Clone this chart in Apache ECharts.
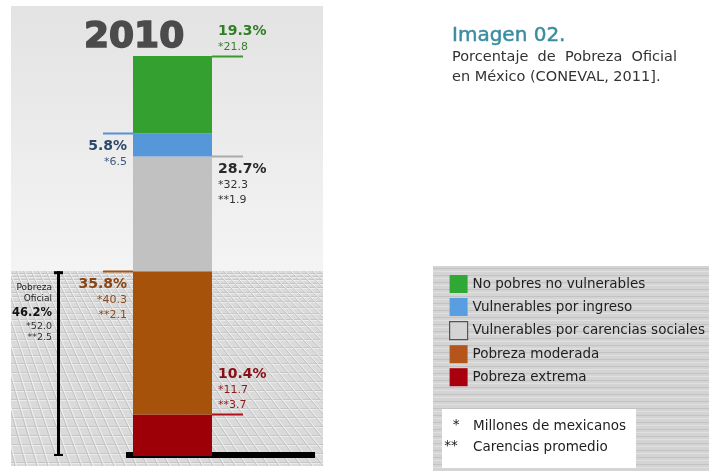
<!DOCTYPE html>
<html><head><meta charset="utf-8">
<script src="https://cdn.jsdelivr.net/npm/echarts@6/dist/echarts.min.js"></script>
<style>html,body{margin:0;padding:0;background:#fff}#c{width:709px;height:471px}</style>
</head><body><div id="c"></div>
<script>
// ---- data ----
const categories = ['2010'];
const seriesNames = ['Pobreza extrema', 'Pobreza moderada', 'Vulnerables por carencias sociales', 'Vulnerables por ingreso', 'No pobres no vulnerables'];
const percentValues = [10.4, 35.8, 28.7, 5.8, 19.3];
const millionValues = [11.7, 40.3, 32.3, 6.5, 21.8];
const deprivationValues = [3.7, 2.1, 1.9, null, null];
const officialPovertyValues = [46.2, 52.0, 2.5];
const officialLabel = ['Pobreza', 'Oficial'];
const legendOrder = [4, 3, 2, 1, 0];
const titleText = 'Imagen 02.';
const subtitleLines = ['Porcentaje  de  Pobreza  Oficial', 'en México (CONEVAL, 2011].'];
const footnotes = [['*', 'Millones de mexicanos'], ['**', 'Carencias promedio']];

// ---- styles ----
const barColors = ['#9e0007', '#a6520b', '#c1c1c1', '#5597d9', '#34a02f'];
const legendColors = ['#a8000e', '#b4561b', '#d4d4d4', '#5a9ee2', '#2fa836'];
const lineColors = ['#b0101a', '#a9530f', '#aaaaaa', '#5b8fd0', '#3a9a2e'];
const pctColors = ['#8a0f14', '#8b4311', '#2a2a2a', '#2d4868', '#2f7f25'];
const smallColors = ['#8a1a1a', '#8b4a20', '#333333', '#3c5a7e', '#3d7d33'];
const labelSide = ['right', 'left', 'right', 'left', 'right'];
const labelPlace = ['above', 'below', 'below', 'below', 'above'];
const FONT = '"DejaVu Sans", sans-serif';
const G = {left: 133, top: 56, width: 79, height: 400};

function makeFloor(w, h) {
  const c = document.createElement('canvas'); c.width = w; c.height = h;
  const g = c.getContext('2d');
  g.fillStyle = '#dadada'; g.fillRect(0, 0, w, h);
  let y = 2, step = 3;
  while (y < h) {
    const yy = Math.round(y);
    g.fillStyle = '#c6c6c6'; g.fillRect(0, yy, w, 1);
    g.fillStyle = '#ebebeb'; g.fillRect(0, yy + 1, w, 1);
    y += step; step = Math.min(step + 0.35, 9);
  }
  const vx = -150, vy = -400;
  g.lineWidth = 1;
  for (let x = -700; x < w + 300; x += 11) {
    g.strokeStyle = '#c2c2c2';
    g.beginPath(); g.moveTo(vx, vy); g.lineTo(x, h); g.stroke();
    g.strokeStyle = 'rgba(245,245,245,0.8)';
    g.beginPath(); g.moveTo(vx, vy); g.lineTo(x + 1.5, h); g.stroke();
  }
  return c;
}
function makeStripes(w, h) {
  const c = document.createElement('canvas'); c.width = w; c.height = h;
  const g = c.getContext('2d');
  g.fillStyle = '#d4d4d4'; g.fillRect(0, 0, w, h);
  for (let y = 2; y < h; y += 7) {
    g.fillStyle = '#c3c3c3'; g.fillRect(0, y, w, 1);
    g.fillStyle = '#e0e0e0'; g.fillRect(0, y + 3, w, 1);
  }
  return c;
}

const chart = echarts.init(document.getElementById('c'));
chart.setOption({
  animation: false,
  grid: G,
  xAxis: {type: 'category', data: categories, show: false},
  yAxis: {type: 'value', min: 0, max: 100, show: false},
  legend: {
    orient: 'vertical', left: 444, top: 270, itemWidth: 18, itemHeight: 18, itemGap: 5,
    icon: 'rect', z: 20, selectedMode: false,
    textStyle: {fontFamily: FONT, fontSize: 13.5, color: '#1e1e1e'},
    data: legendOrder.map(i => ({
      name: seriesNames[i],
      itemStyle: i === 2 ? {color: legendColors[i], borderColor: '#555', borderWidth: 1.2} : {color: legendColors[i]}
    }))
  },
  series: seriesNames.map((n, i) => ({
    name: n, type: 'bar', stack: 'total', data: [percentValues[i]], barWidth: '100%',
    itemStyle: {color: barColors[i]}, z: 5
  }))
});

const yPix = v => chart.convertToPixel({yAxisIndex: 0}, v);
const barLeft = G.left, barRight = G.left + G.width;
const els = [];
function txt(text, x, y, font, fill, align, extra) {
  els.push({type: 'text', z: 30, style: Object.assign({text, x, y, font, fill, textAlign: align || 'left', align: align || 'left', textVerticalAlign: 'middle', verticalAlign: 'middle'}, extra || {})});
}
// backgrounds
const floorTop = Math.round(yPix(percentValues[0] + percentValues[1]));
els.push({type: 'rect', z: 0, shape: {x: 11, y: 6, width: 312, height: floorTop - 6},
  style: {fill: new echarts.graphic.LinearGradient(0, 0, 0, 1, [{offset: 0, color: '#e3e3e3'}, {offset: 1, color: '#f4f4f4'}])}});
els.push({type: 'image', z: 0, style: {image: makeFloor(312, 466 - floorTop), x: 11, y: floorTop, width: 312, height: 466 - floorTop}});
els.push({type: 'image', z: 0, style: {image: makeStripes(276, 205), x: 433, y: 266, width: 276, height: 205}});
els.push({type: 'rect', z: 1, shape: {x: 442, y: 409, width: 194, height: 59}, style: {fill: '#ffffff'}});
// baseline bar
const y0 = yPix(0);
els.push({type: 'rect', z: 2, shape: {x: 126, y: y0 - 4, width: 189, height: 6}, style: {fill: '#000'}});
// year
txt(categories[0], 84, 38, 'bold 36px ' + FONT, '#4b4b4b', 'left', {stroke: '#4b4b4b', lineWidth: 1.6});
// segment labels
let cum = 0;
percentValues.forEach((p, i) => {
  cum += p;
  const yt = Math.round(yPix(cum)) + 0.5;
  const right = labelSide[i] === 'right';
  const x1 = right ? barRight : barLeft - 30, x2 = right ? barRight + 31 : barLeft;
  els.push({type: 'line', z: 10, shape: {x1, y1: yt, x2, y2: yt}, style: {stroke: lineColors[i], lineWidth: 2}});
  const lines = [{t: p.toFixed(1) + '%', f: 'bold 14px ' + FONT, c: pctColors[i], cap: 10}];
  lines.push({t: '*' + millionValues[i].toFixed(1), f: '11px ' + FONT, c: smallColors[i], cap: 8});
  if (deprivationValues[i] != null) lines.push({t: '**' + deprivationValues[i].toFixed(1), f: '11px ' + FONT, c: smallColors[i], cap: 8});
  const tx = right ? barRight + 6 : barLeft - 6;
  const al = right ? 'left' : 'right';
  let baselines;
  if (labelPlace[i] === 'below') baselines = lines.map((l, k) => yt + 18 + 15 * k);
  else baselines = lines.map((l, k) => yt - 5 - 15 * (lines.length - 1 - k));
  lines.forEach((l, k) => txt(l.t, tx, baselines[k] - l.cap / 2, l.f, l.c, al));
});
// official poverty bracket
const yOff = yPix(officialPovertyValues[0]);
els.push({type: 'rect', z: 10, shape: {x: 57, y: yOff, width: 3, height: y0 - yOff}, style: {fill: '#000'}});
els.push({type: 'rect', z: 10, shape: {x: 54, y: yOff, width: 9, height: 3}, style: {fill: '#000'}});
els.push({type: 'rect', z: 10, shape: {x: 54, y: y0 - 2, width: 9, height: 2}, style: {fill: '#000'}});
txt(officialLabel[0], 52, 288, '9px ' + FONT, '#222', 'right');
txt(officialLabel[1], 52, 299, '9px ' + FONT, '#222', 'right');
txt(officialPovertyValues[0].toFixed(1) + '%', 52, 313, 'bold 11.5px ' + FONT, '#111', 'right');
txt('*' + officialPovertyValues[1].toFixed(1), 52, 326.5, '9.5px ' + FONT, '#333', 'right');
txt('**' + officialPovertyValues[2].toFixed(1), 52, 337.5, '9.5px ' + FONT, '#333', 'right');
// title block
txt(titleText, 452, 36, '20px ' + FONT, '#3a8d9f', 'left', {stroke: '#3a8d9f', lineWidth: 0.5});
txt(subtitleLines[0], 452, 57.5, '14.5px ' + FONT, '#333', 'left');
txt(subtitleLines[1], 452, 77.5, '14.5px ' + FONT, '#333', 'left');
// footnotes
txt(footnotes[0][0], 456, 425, '13.5px ' + FONT, '#1e1e1e', 'center');
txt(footnotes[0][1], 473, 426, '13.5px ' + FONT, '#1e1e1e', 'left');
txt(footnotes[1][0], 451, 446, '13.5px ' + FONT, '#1e1e1e', 'center');
txt(footnotes[1][1], 473, 447, '13.5px ' + FONT, '#1e1e1e', 'left');

chart.setOption({graphic: {elements: els}});
</script></body></html>
